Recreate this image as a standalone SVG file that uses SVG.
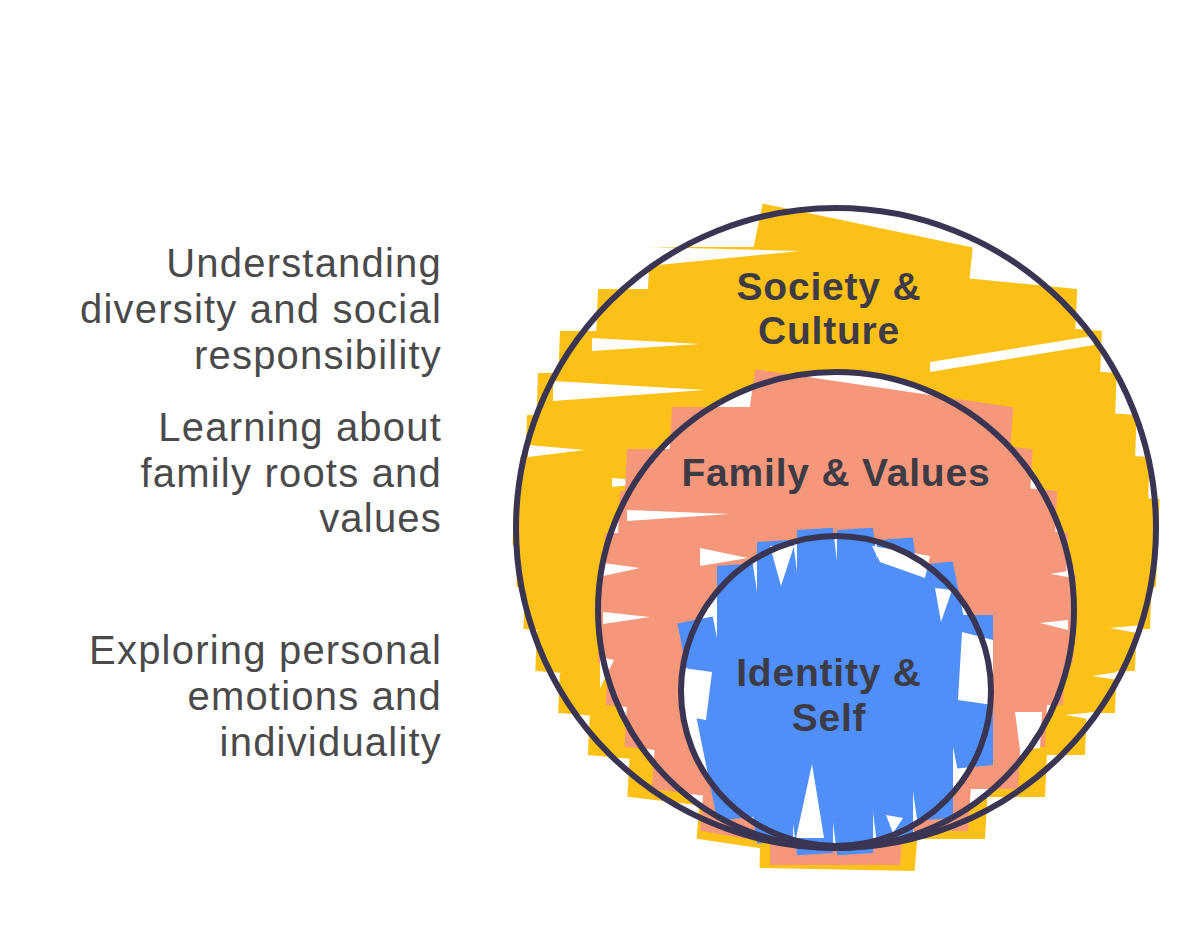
<svg xmlns="http://www.w3.org/2000/svg" width="1200" height="943" viewBox="0 0 1200 943">
<style>
.lbl{font-family:"Liberation Sans",Arial,sans-serif;font-size:40px;letter-spacing:1.2px;fill:#4a4a4a;text-anchor:end}
.node{font-family:"Liberation Sans",Arial,sans-serif;font-size:39px;letter-spacing:0.8px;font-weight:bold;fill:#3d3b45;text-anchor:middle}
.ring{fill:none;stroke:#3a3552;stroke-width:6}
.hatch{fill:none;stroke-linejoin:bevel;stroke-linecap:butt}
.gap{fill:#ffffff}
</style>
<rect width="1200" height="943" fill="#ffffff"/>
<g id="society">
<polyline class="hatch" stroke="#fbc117" stroke-width="46" points="758,226 968,270 650,270 1075,312 598,312 1100,354 560,354 1115,396 538,396 1135,438 527,438 1148,480 520,480 1158,522 514,522 1156,564 518,564 1150,606 525,606 1135,648 537,648 1115,690 560,690 1085,732 590,732 1045,774 630,774 985,816 700,816 915,848 760,845"/>
<g class="gap">
<polygon points="648,247 800,251 648,266"/>
<polygon points="592,338 700,344 592,351"/>
<polygon points="553,381 705,390 553,401"/>
<polygon points="528,445 585,450 528,457"/>
<polygon points="930,362 1092,336 1094,345 930,372"/>
<polygon points="1142,625 1110,628 1142,634"/>
<polygon points="1118,672 1092,676 1118,680"/>
<polygon points="1095,712 1065,715 1095,720"/>
<polygon points="612,478 660,482 612,487"/>
</g>
</g>
<g id="family">
<circle cx="836" cy="610" r="236" fill="#ffffff"/>
<polyline class="hatch" stroke="#f4977a" stroke-width="46" points="752,392 1010,430 672,430 1030,472 627,472 1055,514 620,514 1066,556 605,556 1074,598 600,598 1073,640 600,640 1063,682 608,682 1045,724 627,724 1018,766 655,766 968,808 704,808 900,842 770,842"/>
<g class="gap">
<polygon points="627,510 730,514 627,521"/>
<polygon points="603,563 640,568 603,576"/>
<polygon points="603,612 650,617 603,624"/>
<polygon points="600,657 614,660 600,688"/>
<polygon points="700,548 748,558 700,566"/>
<polygon points="1068,620 1040,623 1068,630"/>
<polygon points="1015,712 1042,712 1040,748 1020,750"/>
<polygon points="1074,570 1050,574 1074,578"/>
</g>
</g>
<g id="identity">
<circle cx="836" cy="691" r="153" fill="#ffffff"/>
<polyline class="hatch" stroke="#4f8ff7" stroke-width="36" points="695,620 735,817 735,566 775,841 775,542 815,853 815,530 855,853 855,530 895,842 895,540 935,818 935,565 975,765 975,615"/>
<g class="gap">
<polygon points="770,546 794,546 781,586"/>
<polygon points="796,838 824,838 812,764"/>
<polygon points="872,546 930,556 925,578 880,562"/>
<polygon points="935,588 952,590 941,622"/>
<polygon points="962,632 993,640 993,705 958,700"/>
<polygon points="683,668 712,672 706,720 683,716"/>
<polygon points="886,815 903,818 893,833"/>
</g>
</g>
<g id="rings">
<circle class="ring" cx="836" cy="528" r="320"/>
<circle class="ring" cx="836" cy="610" r="238"/>
<circle class="ring" cx="836" cy="691" r="155"/>
</g>
<g id="node-labels">
<text class="node" x="829" y="300">Society &amp;</text>
<text class="node" x="829" y="344">Culture</text>
<text class="node" x="836" y="486">Family &amp; Values</text>
<text class="node" x="829" y="686">Identity &amp;</text>
<text class="node" x="829" y="731">Self</text>
</g>
<g id="side-labels">
<text class="lbl" x="442" y="277">Understanding</text>
<text class="lbl" x="442" y="323">diversity and social</text>
<text class="lbl" x="442" y="369">responsibility</text>
<text class="lbl" x="442" y="441">Learning about</text>
<text class="lbl" x="442" y="487">family roots and</text>
<text class="lbl" x="442" y="532">values</text>
<text class="lbl" x="442" y="664">Exploring personal</text>
<text class="lbl" x="442" y="710">emotions and</text>
<text class="lbl" x="442" y="756">individuality</text>
</g>
</svg>
